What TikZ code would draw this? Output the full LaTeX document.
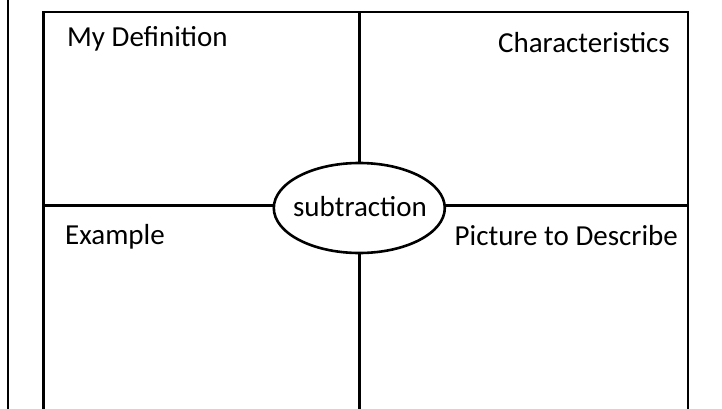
\documentclass[tikz,border=0pt]{standalone}
\usepackage{fontspec}
\setmainfont{Carlito}
\usetikzlibrary{shapes.geometric}
\tikzset{
  frame/.style={line width=2.6pt},
  thinframe/.style={line width=2pt},
  lbl/.style={inner sep=0pt, font=\fontsize{29}{35}\selectfont},
  centre/.style={ellipse, draw, fill=white, line width=2.6pt, inner sep=0pt,
    minimum width=171pt, minimum height=90pt, font=\fontsize{29}{35}\selectfont}
}
\begin{document}
\begin{tikzpicture}[x=1pt,y=-1pt]
\useasboundingbox[fill=white] (0,0) rectangle (722,409);
% outer left line
\coordinate (lt) at (8,0);
\coordinate (lb) at (8,409);
\draw[thinframe] (lt) -- (lb);
% box corners
\coordinate (tl) at (43.7,12);
\coordinate (tr) at (688,12);
\coordinate (bl) at (43.7,412);
\coordinate (br) at (688,412);
\coordinate (tm) at (359.3,12);
\coordinate (bm) at (359.3,412);
\coordinate (ml) at (43.7,205.5);
\coordinate (mr) at (688,205.5);
\draw[frame] (bl) -- (tl) -- (tr) -- (br);
\draw[frame] (tm) -- (bm);
\draw[frame] (ml) -- (mr);
% centre ellipse
\node[centre] (sub) at (359.3,208) {};
\node[lbl, anchor=base] (subtxt) at (360,216) {subtraction};
% quadrant labels
\node[lbl, anchor=base west] (def) at (67,47) {My Definition};
\node[lbl, anchor=base east] (chr) at (670,53) {Characteristics};
\node[lbl, anchor=base west] (ex) at (65,244) {Example};
\node[lbl, anchor=base east] (pic) at (678,245) {Picture to Describe};
\end{tikzpicture}
\end{document}
